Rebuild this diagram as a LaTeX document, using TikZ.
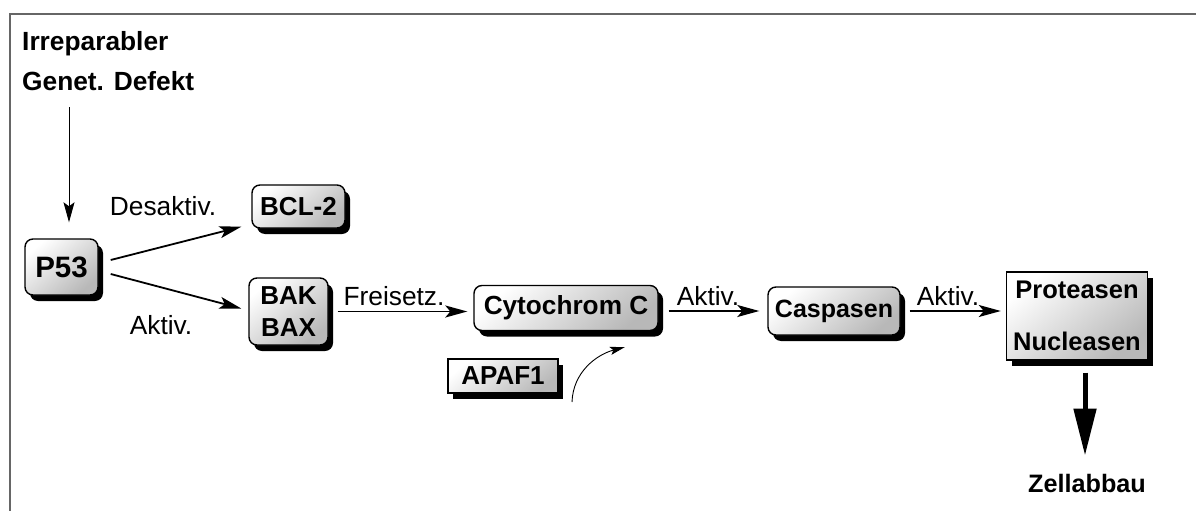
\documentclass[tikz,border=0pt]{standalone}
\usepackage{fontspec}
\setmainfont{Liberation Sans}
\usetikzlibrary{arrows.meta,shadows}
\begin{document}
\begin{tikzpicture}[x=1pt,y=-1pt,
  boxbase/.style={draw=black, line width=1.4pt, inner sep=0pt,
    top color=white, bottom color=black!28, shading angle=40,
    drop shadow={shadow xshift=5pt, shadow yshift=-6pt, fill=black, opacity=1},
    align=center, font=\bfseries\fontsize{26}{32}\selectfont},
  rbox/.style={boxbase, rounded corners=8pt},
  sbox/.style={boxbase},
  lbl/.style={inner sep=0pt, anchor=base, font=\fontsize{26.3}{30}\selectfont},
  blbl/.style={inner sep=0pt, font=\bfseries\fontsize{26.3}{30}\selectfont},
  arr/.style={line width=1.8pt, -{Stealth[length=22pt, width=12pt, inset=5pt]}},
  thinarr/.style={line width=0.9pt, -{Stealth[length=20pt, width=11pt, inset=4pt]}},
  curvarr/.style={line width=0.9pt, -{Stealth[length=15pt, width=8pt, inset=3pt]}},
  bigarr/.style={line width=5pt, -{Triangle[length=47pt, width=22pt]}},
  frameline/.style={draw=black!60, line width=2pt}
]
\useasboundingbox (0,0) rectangle (1196,511);
% frame
\coordinate (f0) at (10,511);
\coordinate (f1) at (10,14);
\coordinate (f2) at (1196,14);
\draw[frameline] (f0) -- (f1) -- (f2);

% top text
\node[blbl, anchor=base west] (t1) at (22,51) {Irreparabler};
\node[blbl, anchor=base west] (t2) at (22,90) {Genet. Defekt};

% boxes
\node[rbox, minimum width=73pt, minimum height=56pt, font=\bfseries\fontsize{29.5}{32}\selectfont] (p53) at (61.5,267) {P53};
\node[rbox, minimum width=93pt, minimum height=43pt] (bcl) at (298.5,206.5) {BCL-2};
\node[rbox, minimum width=79pt, minimum height=67pt] (bak) at (288.5,311.5) {BAK\\BAX};
\node[rbox, minimum width=184pt, minimum height=45pt, font=\bfseries\fontsize{26.2}{32}\selectfont] (cyt) at (566,308) {Cytochrom C};
\node[sbox, minimum width=110pt, minimum height=34pt] (apaf) at (503,376) {APAF1};
\node[rbox, minimum width=132pt, minimum height=48pt, font=\bfseries\fontsize{25}{32}\selectfont] (casp) at (834,311) {Caspasen};
\node[sbox, minimum width=141pt, minimum height=88pt, font=\bfseries\fontsize{25.5}{52}\selectfont] (prot) at (1077,316) {Proteasen\\Nucleasen};
\node[blbl, anchor=base, font=\bfseries\fontsize{25.2}{30}\selectfont] (zell) at (1087,492) {Zellabbau};

% connectors
\coordinate (d0) at (69,107);
\draw[thinarr, shorten >=16pt] (d0) -- (d0 |- p53.north);
\draw[arr] ([xshift=12pt,yshift=7pt]p53.east) -- ([xshift=-10pt,yshift=2pt]bcl.south west);
\draw[arr] ([xshift=12pt,yshift=-7pt]p53.east) -- ([xshift=-7pt,yshift=3pt]bak.west);
\draw[arr] ([xshift=9pt]bak.east) -- ([xshift=-6pt]bak.east -| cyt.west);
\draw[arr] ([xshift=10pt]cyt.east |- casp.west) -- ([xshift=-8pt]casp.west);
\draw[arr] ([xshift=9pt]casp.east) -- ([xshift=-5pt]casp.east -| prot.west);
\coordinate (a0) at (572,402);
\coordinate (a1) at (625,347);
\draw[curvarr] (a0) to[out=88, in=195] (a1);
\draw[bigarr] ([yshift=-12pt]prot.south -| 1085,0) -- ([yshift=18pt]zell.north -| 1085,0);

% labels
\node[lbl] (l1) at (163,215) {Desaktiv.};
\node[lbl] (l2) at (161,334) {Aktiv.};
\node[lbl] (l3) at (394,305) {Freisetz.};
\node[lbl] (l4) at (708,305) {Aktiv.};
\node[lbl] (l5) at (948,305) {Aktiv.};
\end{tikzpicture}
\end{document}
